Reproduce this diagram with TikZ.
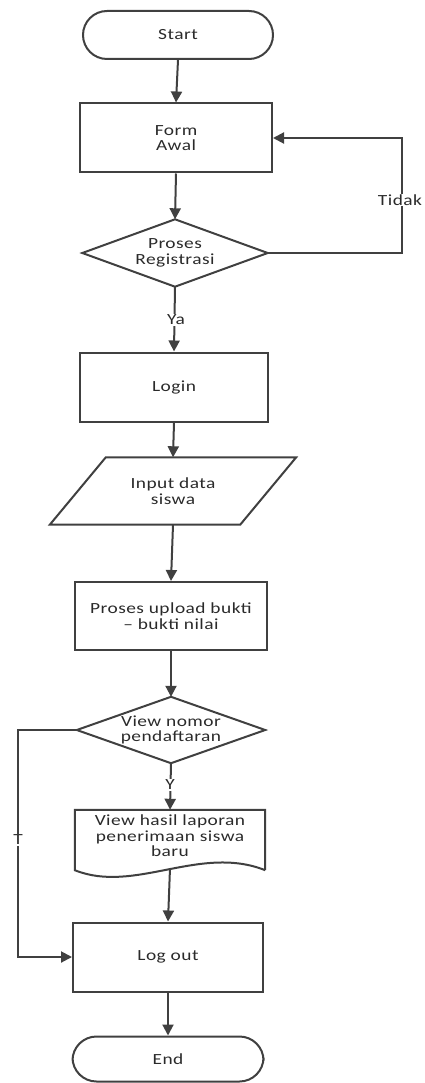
\documentclass[tikz,border=0pt]{standalone}
\usepackage{fontspec}
\setmainfont{Carlito}[FakeStretch=1.25, LetterSpace=3]
\usetikzlibrary{arrows.meta,calc}
\definecolor{ln}{HTML}{404040}
\definecolor{tx}{HTML}{2A2A2A}
\begin{document}
\begin{tikzpicture}[x=1pt,y=1pt,
  every node/.style={font=\fontsize{15.5}{15.5}\selectfont, text=tx, align=center},
  term/.style={draw=ln, line width=2pt, rounded corners=24pt, minimum width=190pt, minimum height=48pt},
  procbox/.style={draw=ln, line width=2pt, minimum width=190pt, minimum height=69pt},
  ghost/.style={minimum width=#1, minimum height=67pt, inner sep=0pt},
  shapeline/.style={draw=ln, line width=2pt},
  arr/.style={draw=ln, line width=2pt, -{Triangle[length=11pt,width=11pt]}},
  lbl/.style={fill=white, inner sep=1pt}]
\useasboundingbox (0,0) rectangle (424,-1083);

\node[term] (start) at (178,-35) {Start};
\node[procbox, minimum width=192pt] (form) at (176,-138) {Form\\Awal};
\node[ghost=185pt] (reg) at (175,-253) {Proses\\Registrasi};
\draw[shapeline] (reg.north) -- (reg.east) -- (reg.south) -- (reg.west) -- cycle;
\node[procbox, minimum width=188pt] (login) at (174,-387) {Login};
\node[ghost=190pt] (inp) at (173,-491) {Input data\\siswa};
\draw[shapeline] ([xshift=28pt]inp.north west) -- ([xshift=28pt]inp.north east) -- ([xshift=-28pt]inp.south east) -- ([xshift=-28pt]inp.south west) -- cycle;
\node[procbox, minimum width=192pt, minimum height=68pt] (upl) at (171,-616) {Proses upload bukti\\– bukti nilai};
\node[ghost=188pt, minimum height=66pt] (view) at (171,-730) {View nomor\\pendaftaran};
\draw[shapeline] (view.north) -- (view.east) -- (view.south) -- (view.west) -- cycle;
\node[ghost=190pt, minimum height=68pt] (doc) at (170,-836) {View hasil laporan\\penerimaan siswa\\baru};
\draw[shapeline] (doc.south east) -- ([yshift=-8pt]doc.north east) -- ([yshift=-8pt]doc.north west) -- (doc.south west)
  .. controls ($(doc.south west)+(60,-24)$) and ($(doc.south west)+(125,26)$) .. (doc.south east);
\node[procbox, minimum width=190pt] (logout) at (168,-957) {Log out};
\node[term, minimum width=191pt, minimum height=45pt] (end) at (168,-1059) {End};

\coordinate (tk) at (402,-253);
\coordinate (tt) at (18,-730);

\draw[arr] (start.south) -- (form.north);
\draw[arr] (form.south) -- (reg.north);
\draw[arr] (reg.south) -- (login.north);
\draw[arr] (reg.east) -- (tk) |- (form.east);
\draw[arr] (login.south) -- (inp.north);
\draw[arr] (inp.south) -- (upl.north);
\draw[arr] (upl.south) -- (view.north);
\draw[arr] (view.south) -- ([yshift=-8pt]doc.north);
\draw[arr] ($(doc.south)+(0,2)$) -- (logout.north);
\draw[arr] (view.west) -- (tt) |- (logout.west);
\draw[arr] (logout.south) -- (end.north);

\node[lbl] (ya) at (176,-320) {Ya};
\node[lbl] (tidak) at (400,-200) {Tidak};
\node[lbl] (y) at (170,-785) {Y};
\node[lbl] (t) at (18,-840) {T};
\end{tikzpicture}
\end{document}
